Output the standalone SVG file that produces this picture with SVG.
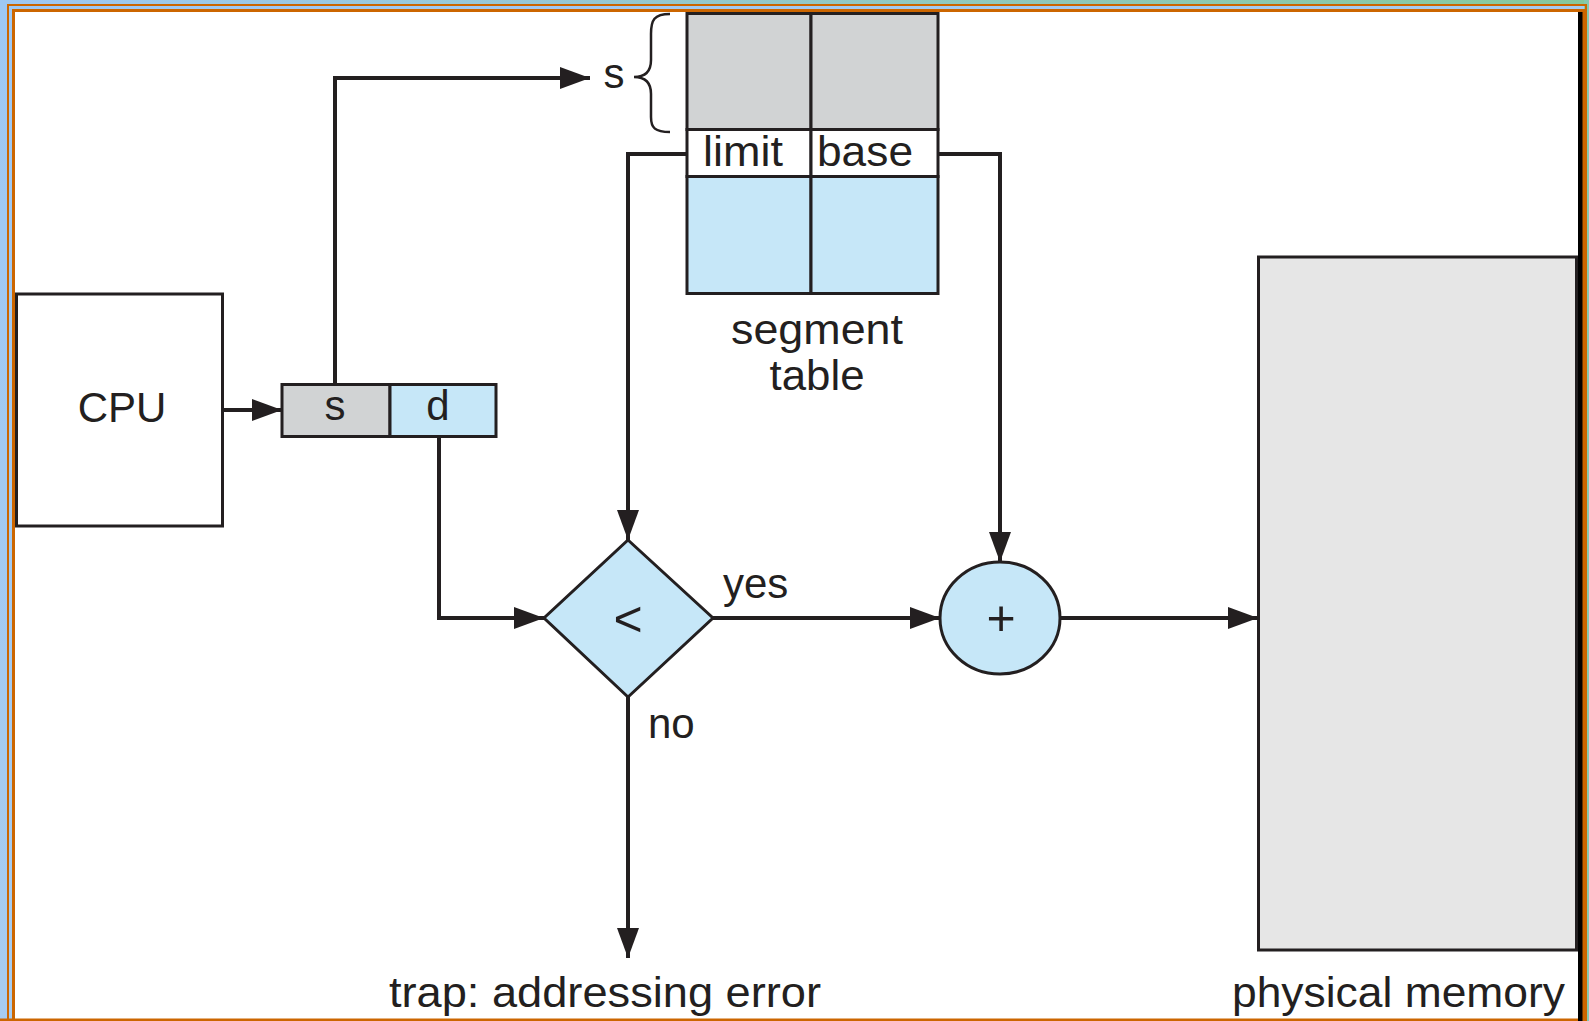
<svg xmlns="http://www.w3.org/2000/svg" width="1589" height="1021" viewBox="0 0 1589 1021">
<defs>
<linearGradient id="bg" x1="0" y1="0" x2="1" y2="1">
<stop offset="0" stop-color="#9ec8f4"/>
<stop offset="0.6" stop-color="#a9cdef"/>
<stop offset="1" stop-color="#e6def0"/>
</linearGradient>
<linearGradient id="topbg" x1="0" y1="0" x2="1" y2="0">
<stop offset="0" stop-color="#9ec8f4"/>
<stop offset="1" stop-color="#86c99c"/>
</linearGradient>
<marker id="arr" viewBox="0 0 30 22" refX="30" refY="11" markerWidth="30" markerHeight="22" markerUnits="userSpaceOnUse" orient="auto">
<path d="M0,0 L30,11 L0,22 z" fill="#231f20"/>
</marker>
<style>
.ln{fill:none;stroke:#231f20;stroke-width:4}
.bx{stroke:#231f20;stroke-width:3}
.t{font-family:"Liberation Sans",Arial,sans-serif;fill:#231f20;font-size:42px}
.c{text-anchor:middle}
.op{font-size:50px}
</style>
</defs>
<rect x="0" y="0" width="1589" height="1021" fill="url(#bg)"/>
<rect x="0" y="0" width="1589" height="5" fill="url(#topbg)"/>
<rect x="1584" y="0" width="5" height="1021" fill="#86c9b0"/>
<rect x="8" y="5" width="1578" height="1020" fill="none" stroke="#cc6600" stroke-width="2"/>
<rect x="13.5" y="10.5" width="1570" height="1012" fill="#ffffff" stroke="#cc6600" stroke-width="3"/>
<rect x="15" y="12" width="1563" height="1006" fill="#ffffff"/>
<rect x="1578" y="12" width="4.5" height="1009" fill="#000000"/>
<rect x="0" y="1018.5" width="1578" height="2.5" fill="#cc6600"/>

<g id="cpu">
<rect class="bx" x="16.5" y="294" width="206" height="232" fill="#ffffff"/>
<text class="t c" x="122" y="422">CPU</text>
</g>

<g id="logical-address">
<rect class="bx" x="282" y="384.5" width="108" height="52" fill="#d1d3d4"/>
<rect class="bx" x="390" y="384.5" width="106" height="52" fill="#c6e7f8"/>
<text class="t c" x="335" y="420">s</text>
<text class="t c" x="438" y="420">d</text>
</g>

<g id="segment-table">
<rect class="bx" x="687" y="13.5" width="124" height="116" fill="#d1d3d4"/>
<rect class="bx" x="811" y="13.5" width="127" height="116" fill="#d1d3d4"/>
<rect class="bx" x="687" y="129.5" width="124" height="47" fill="#ffffff"/>
<rect class="bx" x="811" y="129.5" width="127" height="47" fill="#ffffff"/>
<rect class="bx" x="687" y="176.5" width="124" height="117" fill="#c6e7f8"/>
<rect class="bx" x="811" y="176.5" width="127" height="117" fill="#c6e7f8"/>
<text class="t" x="703" y="166" textLength="80" lengthAdjust="spacingAndGlyphs">limit</text>
<text class="t" x="817" y="166" textLength="96" lengthAdjust="spacingAndGlyphs">base</text>
<text class="t c" x="817" y="344" textLength="172" lengthAdjust="spacingAndGlyphs">segment</text>
<text class="t c" x="817" y="390" textLength="95" lengthAdjust="spacingAndGlyphs">table</text>
<path d="M670,14 C654,14 651,20 651,34 L651,60 C651,71 646,77 634,77 C646,77 651,83 651,94 L651,117 C651,128 655,132 670,132" fill="none" stroke="#231f20" stroke-width="2.5"/>
<text class="t c" x="614" y="88">s</text>
</g>

<g id="compare">
<polygon class="bx" points="628,540 713,618 628,697 544,618" fill="#c6e7f8"/>
<text class="t c op" x="628" y="636">&lt;</text>
</g>

<g id="adder">
<ellipse class="bx" cx="1000" cy="618" rx="60" ry="56" fill="#c6e7f8"/>
<text class="t c op" x="1001" y="635">+</text>
</g>

<g id="physical-memory">
<rect class="bx" x="1258.5" y="257" width="318" height="693" fill="#e6e6e6"/>
<text class="t" x="1232" y="1007" textLength="333" lengthAdjust="spacingAndGlyphs">physical memory</text>
</g>

<g id="trap">
<text class="t" x="389" y="1007" textLength="432" lengthAdjust="spacingAndGlyphs">trap: addressing error</text>
</g>

<g id="connectors">
<path class="ln" d="M223,410 H282" marker-end="url(#arr)"/>
<path class="ln" d="M335,384 V78 H590" marker-end="url(#arr)"/>
<path class="ln" d="M439,437 V618 H544" marker-end="url(#arr)"/>
<path class="ln" d="M687,154 H628 V540" marker-end="url(#arr)"/>
<path class="ln" d="M938,154 H1000 V562" marker-end="url(#arr)"/>
<path class="ln" d="M713,618 H940" marker-end="url(#arr)"/>
<path class="ln" d="M1060,618 H1258" marker-end="url(#arr)"/>
<path class="ln" d="M628,697 V958" marker-end="url(#arr)"/>
<text class="t" x="723" y="598">yes</text>
<text class="t" x="648" y="738">no</text>
</g>
</svg>
